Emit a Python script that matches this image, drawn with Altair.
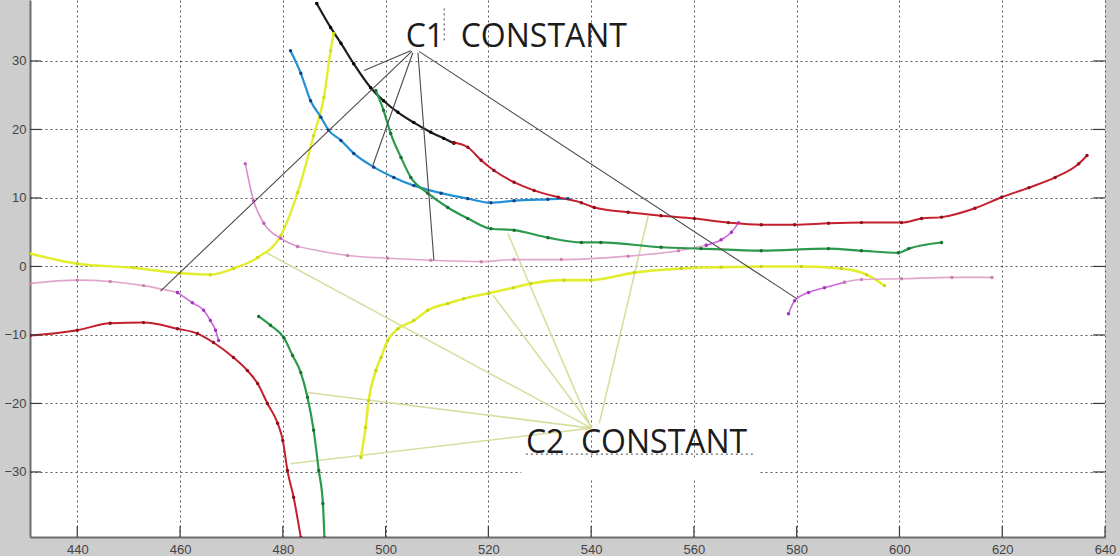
import altair as alt
import pandas as pd

# ---- axis ranges and ticks ----
X_MIN, X_MAX = 430.8, 640.0
Y_MIN, Y_MAX = -39.5, 38.9
x_ticks = [440, 460, 480, 500, 520, 540, 560, 580, 600, 620, 640]
y_ticks = [-30, -20, -10, 0, 10, 20, 30]

# ---- measured curves ----
yellow_a_x = [430.8, 440.0, 450.9, 460.1, 465.9, 470.4, 475.1, 479.6, 482.9, 486.0, 488.0, 489.3, 489.9]
yellow_a_y = [1.9, 0.4, -0.2, -1.0, -1.2, -0.3, 1.3, 4.5, 10.8, 19.1, 24.7, 31.5, 34.0]

pink_a_x = [430.8, 440.0, 446.4, 452.9, 459.5]
pink_a_y = [-2.5, -2.0, -2.2, -2.8, -3.8]
magenta_a_x = [459.5, 462.4, 464.6, 465.9, 466.9, 467.5]
magenta_a_y = [-3.8, -5.3, -6.4, -7.9, -9.3, -10.8]

red_a_x = [430.8, 440.0, 446.4, 452.9, 459.5, 463.4, 466.5, 470.4, 473.1, 475.1, 477.0, 479.0, 480.0, 480.9, 482.1, 483.5]
red_a_y = [-10.1, -9.3, -8.3, -8.2, -9.1, -9.8, -11.1, -13.3, -15.2, -17.1, -20.0, -22.9, -25.4, -29.8, -33.7, -39.6]

green_a_x = [475.3, 477.6, 480.2, 481.9, 483.5, 484.8, 486.0, 487.0, 487.8, 488.1]
green_a_y = [-7.3, -8.6, -10.4, -13.0, -15.5, -19.1, -23.9, -29.8, -34.6, -39.6]

yellow_b_x = [495.2, 496.1, 496.7, 498.1, 499.1, 500.4, 502.4, 505.5, 508.2, 512.1, 515.2, 520.1, 524.9,
              528.3, 534.7, 540.0, 548.4, 557.5, 565.3, 573.1, 580.9, 588.7, 593.6, 597.1]
yellow_b_y = [-27.9, -23.5, -19.6, -15.2, -13.3, -10.8, -9.1, -7.9, -6.4, -5.4, -4.7, -3.9, -3.1,
              -2.5, -2.0, -2.0, -0.9, -0.3, -0.1, 0.0, 0.0, -0.3, -1.2, -2.8]

pink_b_head_x = [472.7, 474.3, 476.3, 479.6, 482.9]
pink_b_head_y = [15.0, 9.6, 6.3, 4.1, 2.9]
pink_b_x = [482.9, 492.6, 500.4, 508.8, 518.6, 525.0, 534.2, 547.2, 557.0, 562.4]
pink_b_y = [2.9, 1.6, 1.2, 0.9, 0.7, 1.0, 1.0, 1.5, 2.3, 3.1]
magenta_b_x = [562.4, 565.3, 567.3, 568.7]
magenta_b_y = [3.1, 3.9, 5.0, 6.4]

magenta_c_x = [578.4, 579.6, 582.3, 585.4, 589.3]
magenta_c_y = [-6.9, -5.0, -3.8, -3.1, -2.3]
pink_c_x = [589.3, 592.6, 600.4, 610.2, 618.0]
pink_c_y = [-2.3, -1.9, -1.8, -1.6, -1.6]

blue_x = [481.5, 483.5, 485.4, 487.4, 488.9, 491.3, 493.8, 497.7, 501.6, 505.5, 510.8, 516.0, 520.5, 525.0, 531.6, 535.5]
blue_y = [31.5, 28.2, 24.2, 21.8, 19.9, 18.4, 16.5, 14.5, 13.0, 11.8, 10.7, 9.9, 9.3, 9.6, 9.8, 9.9]

black_x = [486.6, 489.3, 491.3, 493.8, 497.1, 499.6, 502.4, 505.5, 508.8, 511.3, 513.3]
black_y = [38.4, 34.9, 32.6, 29.6, 26.1, 24.2, 22.5, 21.0, 19.6, 18.7, 18.0]

red_b_x = [513.3, 516.0, 518.6, 521.1, 525.0, 528.9, 533.6, 538.1, 540.6, 547.2, 553.6, 560.1, 566.7,
           573.1, 579.6, 586.2, 592.6, 600.4, 604.3, 608.2, 614.7, 619.9, 625.2, 630.3, 634.9, 636.5]
red_b_y = [18.1, 17.4, 15.5, 14.0, 12.3, 11.1, 10.1, 9.3, 8.6, 7.9, 7.4, 7.0, 6.4,
           6.1, 6.1, 6.3, 6.4, 6.4, 7.0, 7.2, 8.5, 10.1, 11.5, 13.0, 15.0, 16.2]

green_b_x = [498.1, 499.6, 501.0, 503.0, 504.9, 508.2, 512.1, 516.0, 520.5, 525.0, 531.6, 538.1, 541.9,
             553.6, 561.4, 573.1, 586.2, 592.6, 599.8, 601.8, 608.2]
green_b_y = [25.7, 22.8, 19.4, 15.9, 13.0, 10.7, 8.6, 7.0, 5.5, 5.3, 4.2, 3.5, 3.5,
             2.8, 2.6, 2.3, 2.6, 2.3, 2.0, 2.6, 3.5]

# ---- annotation leaders: (x start, y start, x end, y end) ----
c1_x1 = [504.9, 505.1, 505.3, 506.3, 506.5]
c1_y1 = [31.5, 31.4, 31.2, 31.2, 31.4]
c1_x2 = [495.8, 456.2, 497.5, 509.4, 580.0]
c1_y2 = [28.6, -3.6, 14.7, 0.9, -4.7]

c2_x1 = [540.0, 540.0, 540.0, 540.0, 540.2, 541.6]
c2_y1 = [-23.6, -23.6, -23.6, -23.6, -23.5, -22.9]
c2_x2 = [476.8, 484.8, 481.5, 523.8, 520.9, 551.1]
c2_y2 = [2.0, -18.4, -28.8, 4.8, -4.2, 7.4]

# non-breaking spaces keep the double gap after C1 / C2 in SVG
labels = ["C1\u00a0\u00a0CONSTANT", "C2\u00a0\u00a0CONSTANT"]
label_x = [503.9, 527.3]
label_y = [32.0, -27.3]

# ---- styles: name -> (line colour, dot colour, line width) ----
curves = [
    ("yellow_a", yellow_a_x, yellow_a_y, "#e2ee2c", "#cfdc1c", 2.4),
    ("pink_a", pink_a_x, pink_a_y, "#e0a6cc", "#c882b4", 1.6),
    ("magenta_a", magenta_a_x, magenta_a_y, "#cc66dd", "#a633c4", 1.6),
    ("red_a", red_a_x, red_a_y, "#c4202e", "#8c0f1e", 2.0),
    ("green_a", green_a_x, green_a_y, "#2b9a4c", "#1c6e35", 2.2),
    ("yellow_b", yellow_b_x, yellow_b_y, "#e2ee2c", "#c6d41c", 2.6),
    ("pink_b_head", pink_b_head_x, pink_b_head_y, "#d98ccc", "#c060b4", 1.6),
    ("pink_b", pink_b_x, pink_b_y, "#e0a6cc", "#c882b4", 1.6),
    ("magenta_b", magenta_b_x, magenta_b_y, "#cc66dd", "#a633c4", 1.6),
    ("magenta_c", magenta_c_x, magenta_c_y, "#cc66dd", "#a633c4", 1.6),
    ("pink_c", pink_c_x, pink_c_y, "#e0a6cc", "#c882b4", 1.6),
    ("blue", blue_x, blue_y, "#2290d4", "#123f86", 2.2),
    ("black", black_x, black_y, "#1e1e1e", "#000000", 2.2),
    ("red_b", red_b_x, red_b_y, "#c4202e", "#8c0f1e", 2.0),
    ("green_b", green_b_x, green_b_y, "#2b9a4c", "#1c6e35", 2.2),
]

rows = []
for name, xs, ys, col, dot, w in curves:
    for i, (x, y) in enumerate(zip(xs, ys)):
        rows.append({"series": name, "i": i, "x": x, "y": y, "col": col, "dot": dot, "w": w})
curve_df = pd.DataFrame(rows)

c1_df = pd.DataFrame({"x": c1_x1, "y": c1_y1, "x2": c1_x2, "y2": c1_y2})
c2_df = pd.DataFrame({"x": c2_x1, "y": c2_y1, "x2": c2_x2, "y2": c2_y2})
label_df = pd.DataFrame({"text": labels, "x": label_x, "y": label_y})

W, H = 1075, 537
xs = alt.Scale(domain=[X_MIN, X_MAX], nice=False, zero=False)
ys = alt.Scale(domain=[Y_MIN, Y_MAX], nice=False, zero=False)

x_axis = alt.Axis(values=x_ticks, grid=True, tickSize=0, labelPadding=6, title=None,
                  labelFlush=False, domainColor="#6e6e6e", domainWidth=2)
y_axis = alt.Axis(values=y_ticks, grid=True, tickSize=0, labelPadding=4, title=None,
                  domainColor="#6e6e6e", domainWidth=2)

# frame layers that carry the axes and gridlines
tick_x_df = pd.DataFrame({"x": x_ticks})
tick_y_df = pd.DataFrame({"y": y_ticks})

frame = alt.Chart(tick_x_df).mark_rule(opacity=0).encode(
    x=alt.X("x:Q", scale=xs, axis=x_axis),
    y=alt.value(0),
    y2=alt.value(1),
)
frame_y = alt.Chart(tick_y_df).mark_rule(opacity=0).encode(
    y=alt.Y("y:Q", scale=ys, axis=y_axis),
    x=alt.value(0),
    x2=alt.value(1),
)

# inward tick marks on bottom, left and right edges
ticks_bottom = alt.Chart(tick_x_df).mark_rule(color="#3a3a3a", strokeWidth=1.2).encode(
    x=alt.X("x:Q", scale=xs), y=alt.value(H - 11), y2=alt.value(H))
ticks_left = alt.Chart(tick_y_df).mark_rule(color="#3a3a3a", strokeWidth=1.2).encode(
    y=alt.Y("y:Q", scale=ys), x=alt.value(0), x2=alt.value(11))
ticks_right = alt.Chart(tick_y_df).mark_rule(color="#3a3a3a", strokeWidth=1.2).encode(
    y=alt.Y("y:Q", scale=ys), x=alt.value(W - 12), x2=alt.value(W))

# white text box under the C2 label and its dotted edges
box_df = pd.DataFrame({"x": [526.4], "x2": [572.6], "y": [-27.9], "y2": [-31.2]})
box = alt.Chart(box_df).mark_rect(color="white").encode(
    x=alt.X("x:Q", scale=xs), x2="x2:Q", y=alt.Y("y:Q", scale=ys), y2="y2:Q")
dots_df = pd.DataFrame({"x": [527.3, 511.4], "x2": [571.8, 511.4], "y": [-27.4, 33.0], "y2": [-27.4, 38.0]})
box_edges = alt.Chart(dots_df).mark_rule(color="#444444", strokeDash=[2, 3]).encode(
    x=alt.X("x:Q", scale=xs), x2="x2:Q", y=alt.Y("y:Q", scale=ys), y2="y2:Q")

c2_lines = alt.Chart(c2_df).mark_rule(color="#d3da96", strokeWidth=1.6, opacity=0.9).encode(
    x=alt.X("x:Q", scale=xs), x2="x2:Q", y=alt.Y("y:Q", scale=ys), y2="y2:Q")

lines = alt.Chart(curve_df).mark_line(interpolate="monotone", clip=True).encode(
    x=alt.X("x:Q", scale=xs),
    y=alt.Y("y:Q", scale=ys),
    detail="series:N",
    order="i:Q",
    color=alt.Color("col:N", scale=None),
    strokeWidth=alt.StrokeWidth("w:Q", scale=None),
)
points = alt.Chart(curve_df).mark_circle(size=12, opacity=1, clip=True).encode(
    x=alt.X("x:Q", scale=xs),
    y=alt.Y("y:Q", scale=ys),
    color=alt.Color("dot:N", scale=None),
)

c1_lines = alt.Chart(c1_df).mark_rule(color="#4a4a4a", strokeWidth=1.1).encode(
    x=alt.X("x:Q", scale=xs), x2="x2:Q", y=alt.Y("y:Q", scale=ys), y2="y2:Q")

text = alt.Chart(label_df).mark_text(
    align="left", baseline="alphabetic", font="Open Sans", fontSize=32, color="#1c1c1c"
).encode(
    x=alt.X("x:Q", scale=xs), y=alt.Y("y:Q", scale=ys), text="text:N")

chart = alt.layer(
    frame, frame_y, box, box_edges, c2_lines, lines, points, c1_lines, text,
    ticks_bottom, ticks_left, ticks_right,
).properties(
    width=W, height=H,
    autosize=alt.AutoSizeParams(type="none"),
    padding={"left": 30, "top": 0, "right": 15, "bottom": 19},
    background="#cdcdcd",
).configure_view(
    fill="white", stroke=None
).configure_axis(
    gridColor="#3c3c3c", gridDash=[2, 3], gridOpacity=0.85, gridWidth=1,
    labelFont="Liberation Sans", labelFontSize=13, labelColor="#444444",
)

chart.save("out.html", embed_options={"renderer": "svg", "actions": False})
